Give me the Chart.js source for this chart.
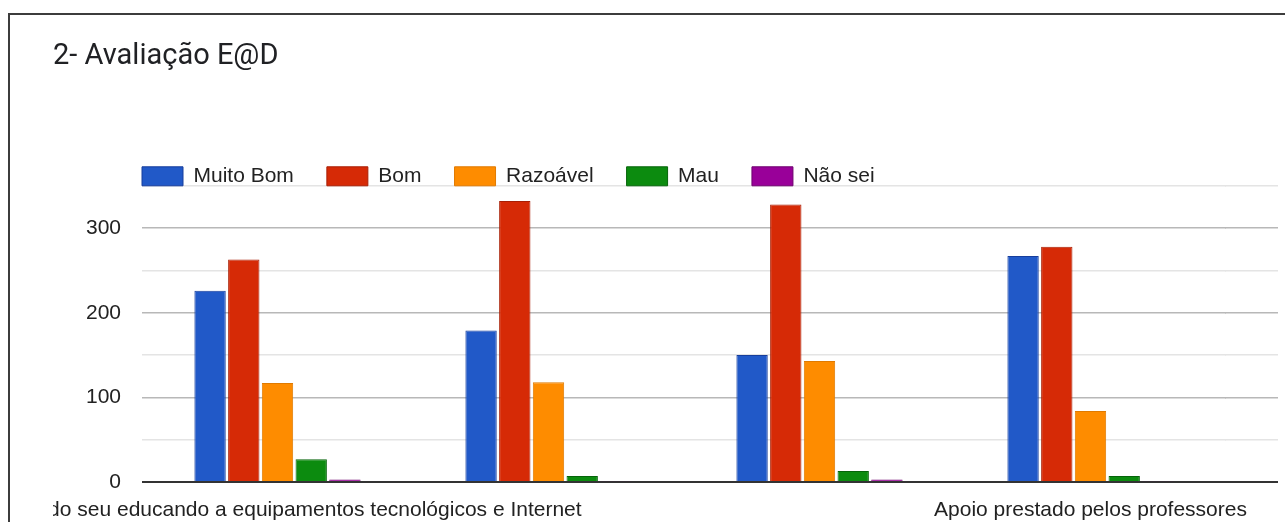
<!DOCTYPE html>
<html>
<head>
<meta charset="utf-8">
<script src="https://cdn.jsdelivr.net/npm/chart.js@4"></script>
<style>
    html, body { margin: 0; padding: 0; background: #fff; overflow: hidden; }
    body { width: 1285px; height: 522px; position: relative; }
    #frame {
        position: absolute; left: 8px; top: 13px; width: 1400px; height: 600px;
        border-left: 2px solid #3c3c3c; border-top: 2px solid #3c3c3c;
    }
    #chartBox { position: absolute; left: 53px; top: 0; width: 1232px; height: 522px; }
</style>
</head>
<body>
<div id="frame"></div>
<div id="chartBox"><canvas id="evalChart"></canvas></div>
<script>
// Categories (only the first and last labels are visible in the source)
const categories = [
    'Acesso do seu educando a equipamentos tecnológicos e Internet',
    '',
    '',
    'Apoio prestado pelos professores'
];
const seriesNames = ['Muito Bom', 'Bom', 'Razoável', 'Mau', 'Não sei'];
const muitoBom = [226, 179, 150, 267];
const bom = [263, 332, 328, 278];
const razoavel = [117, 118, 143, 84];
const mau = [27, 7, 13, 7];
const naoSei = [3, 1, 3, 1];
const yTicks = [0, 100, 200, 300];

const fills = ['#2159c8', '#d62a06', '#fe8c00', '#0c8b0f', '#990099'];
const borders = ['#173e9c', '#a81f05', '#e07a00', '#06640a', '#6e006e'];

const FONT = '"Liberation Sans", Arial, sans-serif';
const gridRun = 52;     // gridlines continue past the last category
const legendDrop = 11;  // legend sits a bit lower than the layout puts it

function gridColor(value) {
    if (value === 0) return '#333333';
    return value % 100 === 0 ? '#b8b8b8' : '#e4e4e4';
}
function gridWidth(value) {
    return value === 0 ? 2 : 1.5;
}

/** Extends the horizontal gridlines to the right of the plot area. */
const gridExtender = {
    id: 'gridExtender',
    beforeDatasetsDraw(chart) {
        const { ctx, chartArea, scales: { y } } = chart;
        ctx.save();
        y.ticks.forEach((tick) => {
            const w = gridWidth(tick.value);
            const half = w / 2;
            const py = Math.round(y.getPixelForValue(tick.value) - half) + half;
            ctx.beginPath();
            ctx.lineWidth = w;
            ctx.strokeStyle = gridColor(tick.value);
            ctx.moveTo(chartArea.right - 1, py);
            ctx.lineTo(chartArea.right + gridRun, py);
            ctx.stroke();
        });
        ctx.restore();
    }
};

/** Moves the legend so its first box starts at the plot's left edge. */
const legendPlacer = {
    id: 'legendPlacer',
    afterLayout(chart) {
        const lg = chart.legend;
        const pad = lg.options.labels.padding;
        const w = lg.right - lg.left;
        const h = lg.bottom - lg.top;
        lg.left = chart.chartArea.left - pad;
        lg.right = lg.left + w;
        lg.top += legendDrop;
        lg.bottom = lg.top + h;
    }
};

const datasets = [muitoBom, bom, razoavel, mau, naoSei].map((values, i) => ({
    label: seriesNames[i],
    data: values,
    backgroundColor: fills[i],
    borderColor: borders[i],
    borderWidth: 1,
    categoryPercentage: 0.622,
    barPercentage: 0.93
}));

const chart = new Chart(document.getElementById('evalChart'), {
    type: 'bar',
    data: { labels: categories, datasets: datasets },
    plugins: [gridExtender, legendPlacer],
    options: {
        responsive: true,
        maintainAspectRatio: false,
        animation: false,
        layout: { padding: { left: 0, right: 59, top: 0, bottom: 0 } },
        scales: {
            x: {
                grid: { display: false },
                border: { display: false },
                ticks: {
                    autoSkip: false,
                    maxRotation: 0,
                    minRotation: 0,
                    padding: 8,
                    color: '#222222',
                    font: { family: FONT, size: 21 }
                },
                afterFit: (scale) => {
                    scale.height = 40;
                    scale.paddingLeft = 0;
                    scale.paddingRight = 0;
                }
            },
            y: {
                min: 0,
                max: 350,
                border: { display: false },
                grid: {
                    drawTicks: false,
                    color: (ctx) => gridColor(ctx.tick.value),
                    lineWidth: (ctx) => gridWidth(ctx.tick.value)
                },
                ticks: {
                    stepSize: 50,
                    padding: 21,
                    color: '#222222',
                    font: { family: FONT, size: 21 },
                    callback: (value) => yTicks.includes(value) ? value : ''
                },
                afterFit: (scale) => { scale.width = 89; }
            }
        },
        plugins: {
            title: {
                display: true,
                text: '2- Avaliação E@D',
                align: 'start',
                color: '#202124',
                font: { family: 'Roboto, sans-serif', size: 29, weight: 'normal' },
                padding: { top: 39, bottom: 48 }
            },
            legend: {
                position: 'top',
                align: 'start',
                fullSize: false,
                labels: {
                    boxWidth: 41,
                    boxHeight: 19,
                    padding: 33,
                    color: '#222222',
                    font: { family: FONT, size: 21 }
                }
            },
            tooltip: { enabled: false }
        }
    }
});
</script>
</body>
</html>
